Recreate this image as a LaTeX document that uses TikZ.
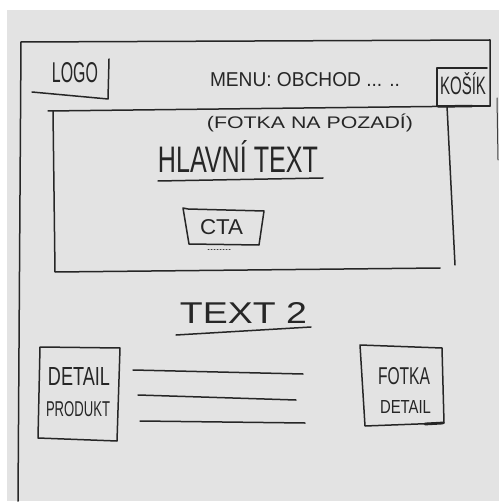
\documentclass[tikz,border=0pt]{standalone}
\usepackage{fontspec}
\setmainfont{Liberation Sans}
\usepackage{graphicx}
\begin{document}
\begin{tikzpicture}[x=1pt,y=-1pt,
  ink/.style={draw=black!85, line width=1.5pt, line cap=round, line join=round},
  thinink/.style={draw=black!75, line width=1pt, line cap=round},
  lbl/.style={inner sep=0pt, text=black!85}]
\useasboundingbox (0,0) rectangle (499,502);
\fill[white] (0,0) rectangle (499,502);
\fill[black!11] (7,10) rectangle (499,501);
% outer frame
\draw[ink] (18,501) -- (21,42) -- (490,40) -- (490,106);
\draw[thinink] (497,98) -- (498,160);
% header
\draw[ink] (32,92) -- (108,99) -- (109,59);
\node[lbl] (logo) at (75,72.5) {\resizebox{46pt}{20pt}{LOGO}};
\node[lbl] (menu) at (305,80) {\resizebox{190pt}{14pt}{MENU: OBCHOD ... ..}};
\draw[ink] (490,106) -- (437,106) -- (437,68) -- (487,68);
\node[lbl] (kosik) at (463,84) {\resizebox{46pt}{22pt}{KOŠÍK}};
% hero
\draw[ink] (48,111) -- (475,106);
\draw[ink, line width=2.5pt] (438,106.5) -- (472,106);
\draw[ink] (53,111) -- (55,272) -- (440,268);
\draw[ink] (447,106) -- (455,265);
\node[lbl] (fotka) at (310,123) {\resizebox*{206pt}{18pt}{(FOTKA NA POZADÍ)}};
\node[lbl] (hlavni) at (238,157) {\resizebox{160pt}{32pt}{HLAVNÍ TEXT}};
\draw[ink] (158,181) -- (323,178);
\draw[ink] (183,208) -- (188,209) -- (264,211) -- (259,245) -- (189,244) -- cycle;
\draw[thinink, dotted] (208,249) -- (230,249);
\node[lbl] (cta) at (221.5,227.5) {\resizebox{43pt}{15pt}{CTA}};
% text 2
\node[lbl] (text2) at (243.5,312.5) {\resizebox{127pt}{21pt}{TEXT 2}};
\draw[ink] (176,335) -- (311,327);
% detail produkt
\draw[ink] (40,347) -- (120,348) -- (117,441) -- (38,438) -- cycle;
\node[lbl] (detail) at (79,376) {\resizebox{62pt}{18pt}{DETAIL}};
\node[lbl] (produkt) at (78,409.5) {\resizebox{64pt}{15pt}{PRODUKT}};
\draw[ink] (133,370) -- (303,374);
\draw[ink] (138,395) -- (296,400);
\draw[ink] (140,421) -- (305,423);
% fotka detail
\draw[ink] (360,345) -- (442,348) -- (444,423) -- (365,426) -- cycle;
\draw[ink, line width=2.8pt] (425,424) -- (443,423);
\node[lbl] (fotka2) at (404,376.5) {\resizebox{52pt}{17pt}{FOTKA}};
\node[lbl] (detail2) at (405.5,406.5) {\resizebox{51pt}{13pt}{DETAIL}};
\end{tikzpicture}
\end{document}
